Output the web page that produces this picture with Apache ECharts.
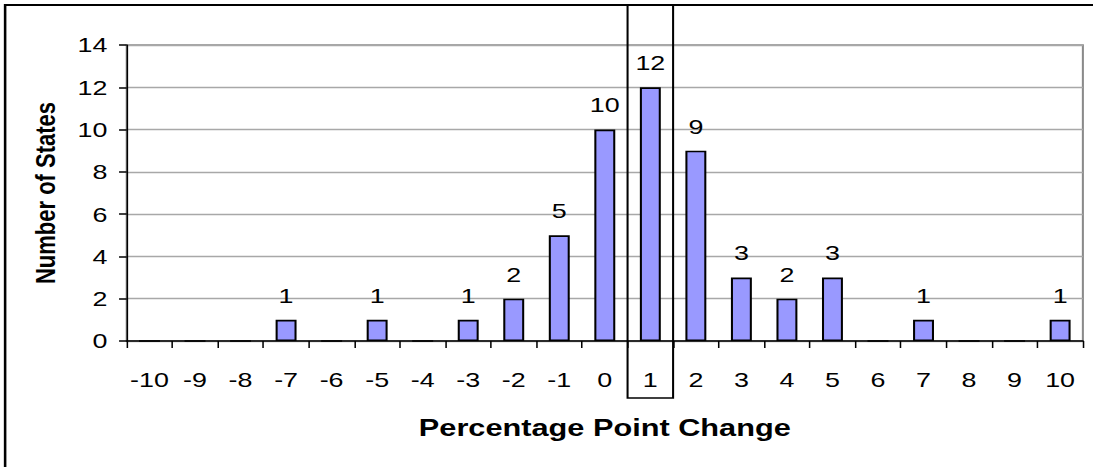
<!DOCTYPE html>
<html>
<head>
<meta charset="utf-8">
<script src="https://cdn.jsdelivr.net/npm/echarts@6/dist/echarts.min.js"></script>
<style>
  html, body { margin: 0; padding: 0; background: #fff; overflow: hidden; }
  /* The chart is laid out narrower and stretched horizontally to fill the page */
  #chart { width: 854px; height: 467px; transform: scaleX(1.28); transform-origin: 0 0; }
</style>
</head>
<body>
<div id="chart"></div>
<script>
// Percentage point change buckets and how many states fall in each
const changes = ['-10', '-9', '-8', '-7', '-6', '-5', '-4', '-3', '-2', '-1', '0', '1', '2', '3', '4', '5', '6', '7', '8', '9', '10'];
const stateCounts = [0, 0, 0, 1, 0, 1, 0, 1, 2, 5, 10, 12, 9, 3, 2, 3, 0, 1, 0, 0, 1];
const yTicks = [0, 2, 4, 6, 8, 10, 12, 14];
const highlighted = '1';

const font = 'Liberation Sans, Arial, sans-serif';
const chart = echarts.init(document.getElementById('chart'), null, { renderer: 'svg' });

chart.setOption({
  animation: false,
  backgroundColor: '#fff',
  grid: {
    left: 99, right: 8, top: 45, bottom: 126,
    show: true, borderColor: '#8a8a8a', borderWidth: 1.6, backgroundColor: 'transparent'
  },
  xAxis: {
    type: 'category',
    data: changes,
    boundaryGap: true,
    name: 'Percentage Point Change',
    nameLocation: 'middle',
    nameGap: 75,
    nameTextStyle: { fontFamily: font, fontSize: 24, fontWeight: 'bold', color: '#000' },
    axisLine: { lineStyle: { color: '#000', width: 1.5 } },
    axisTick: { show: true, length: 7, lineStyle: { color: '#000', width: 1.2 } },
    axisLabel: { margin: 28, fontFamily: font, fontSize: 21, color: '#000', interval: 0 }
  },
  yAxis: {
    type: 'value',
    min: yTicks[0],
    max: yTicks[yTicks.length - 1],
    interval: yTicks[1] - yTicks[0],
    name: 'Number of States',
    nameLocation: 'middle',
    nameRotate: 90,
    nameGap: 53,
    nameTextStyle: { fontFamily: font, fontSize: 22, fontWeight: 'bold', color: '#000' },
    axisLine: { show: true, lineStyle: { color: '#000', width: 1.2 } },
    axisTick: { show: true, length: 6, lineStyle: { color: '#000', width: 1.5 } },
    axisLabel: { margin: 15, fontFamily: font, fontSize: 21, color: '#000' },
    splitLine: { show: true, lineStyle: { color: '#a8a8a8', width: 1.4 } }
  },
  series: [{
    type: 'bar',
    data: stateCounts,
    barWidth: '46%',
    itemStyle: { color: '#9999FF', borderColor: '#000', borderWidth: 1.6 },
    label: {
      show: true,
      position: 'top',
      distance: 14,
      fontFamily: font,
      fontSize: 21,
      color: '#000',
      formatter: p => (p.value > 0 ? String(p.value) : '')
    }
  }]
});

// Outline the highlighted bucket's column and the outer frame
function drawFrames() {
  const idx = changes.indexOf(highlighted);
  const c0 = chart.convertToPixel({ xAxisIndex: 0 }, idx);
  const c1 = chart.convertToPixel({ xAxisIndex: 0 }, idx + 1);
  const band = c1 - c0;
  chart.setOption({
    graphic: [
      {
        type: 'rect', z: 100, silent: true,
        shape: { x: 4, y: 5, width: 1000, height: 700 },
        style: { fill: 'none', stroke: '#000', lineWidth: 2 }
      },
      {
        type: 'rect', z: 100, silent: true,
        shape: { x: c0 - band / 2, y: 5, width: band, height: 393 },
        style: { fill: 'none', stroke: '#000', lineWidth: 1.6 }
      }
    ]
  });
}
drawFrames();
</script>
</body>
</html>
